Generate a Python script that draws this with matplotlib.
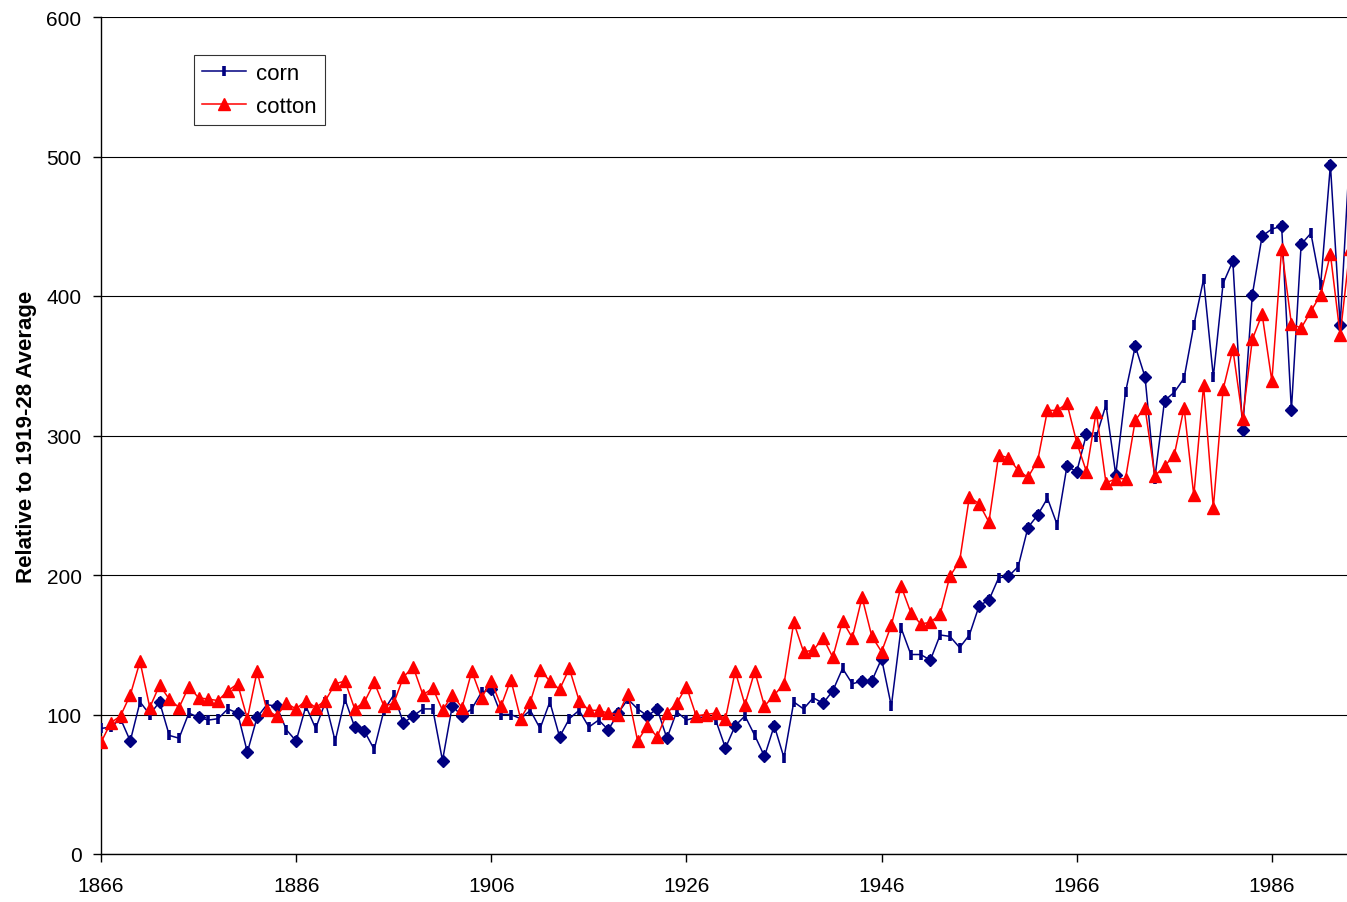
import numpy as np
import matplotlib
matplotlib.use('Agg')
import matplotlib.pyplot as plt

years = list(range(1866, 1995))

corn = [90, 91, 97, 81, 109, 100, 109, 85, 83, 101,
        98, 96, 97, 104, 101, 73, 98, 107, 106, 89,
        81, 106, 90, 109, 81, 111, 91, 88, 75, 103,
        114, 94, 99, 104, 104, 67, 106, 99, 104, 116,
        118, 100, 100, 97, 103, 90, 109, 84, 97, 103,
        91, 96, 89, 101, 111, 104, 99, 104, 83, 102,
        96, 98, 98, 96, 76, 92, 99, 85, 70, 92,
        69, 109, 104, 112, 108, 117, 133, 122, 124, 124,
        140, 106, 162, 143, 143, 139, 157, 156, 148, 157,
        178, 182, 198, 199, 206, 234, 243, 255, 236, 278,
        274, 301, 299, 322, 272, 331, 364, 342, 269, 325,
        331, 341, 379, 412, 342, 409, 425, 304, 401, 443,
        448, 450, 318, 437, 445, 408, 494, 379, 505]

cotton = [80, 94, 99, 114, 138, 105, 121, 111, 105, 120,
          112, 111, 110, 117, 122, 97, 131, 103, 99, 108,
          104, 110, 105, 110, 122, 124, 104, 109, 123, 106,
          108, 127, 134, 114, 119, 103, 114, 105, 131, 112,
          124, 106, 125, 97, 109, 132, 124, 118, 133, 110,
          103, 103, 101, 100, 115, 81, 92, 84, 101, 108,
          120, 99, 100, 101, 97, 131, 107, 131, 106, 114,
          122, 166, 145, 146, 155, 141, 167, 155, 184, 156,
          145, 164, 192, 173, 165, 166, 172, 199, 210, 256,
          251, 238, 286, 284, 275, 270, 282, 318, 318, 323,
          295, 274, 317, 266, 269, 269, 311, 320, 271, 278,
          286, 320, 257, 336, 248, 333, 362, 312, 369, 387,
          339, 434, 380, 377, 389, 401, 430, 372, 434]

# corn points drawn with a diamond instead of the bar marker
corn_diamond_years = [1869, 1872, 1876, 1880, 1881, 1882, 1884, 1886, 1892, 1893,
                      1897, 1898, 1901, 1902, 1903, 1906, 1913, 1918, 1919, 1922,
                      1923, 1924, 1930, 1931, 1934, 1935, 1940, 1941, 1944, 1945,
                      1946, 1951, 1956, 1957, 1959, 1961, 1962, 1965, 1966, 1967,
                      1970, 1972, 1973, 1975, 1982, 1983, 1984, 1985, 1987, 1988,
                      1989, 1992, 1993]

xticks = list(range(1866, 1987, 20))
yticks = list(range(0, 601, 100))

plt.rcParams['font.family'] = ['Liberation Sans', 'DejaVu Sans']

fig = plt.figure(figsize=(13.47, 9.03), dpi=100)
ax = fig.add_axes([101 / 1347, 48 / 903, 1 - 101 / 1347, 837 / 903])

ax.plot(years, corn, color='#000080', lw=1.1, marker='|', ms=7, mew=2.6,
        label='corn', zorder=3)
dx = [y for y in years if y in corn_diamond_years]
dy = [corn[years.index(y)] for y in dx]
ax.plot(dx, dy, ls='none', marker='D', ms=6.5, color='#000080', zorder=3)

ax.plot(years, cotton, color='#ff0000', lw=1.1, marker='^', ms=8.5,
        label='cotton', zorder=4)

ax.set_xlim(1866, 1993.7)
ax.set_ylim(0, 600)
ax.set_xticks(xticks)
ax.set_yticks(yticks)
ax.tick_params(labelsize=15, direction='out', length=6, width=1, color='black')
ax.tick_params(axis='x', pad=10)
ax.tick_params(axis='y', pad=8)
ax.grid(axis='y', color='black', lw=0.8)
ax.set_axisbelow(True)
for s in ['top', 'right']:
    ax.spines[s].set_visible(False)
for s in ['left', 'bottom']:
    ax.spines[s].set_linewidth(1)
ax.set_ylabel('Relative to 1919-28 Average', fontsize=16, fontweight='bold', labelpad=7)

leg = ax.legend(loc='upper left', bbox_to_anchor=((194 - 101) / 1246, (855 - 56) / 837),
                fontsize=16, frameon=True, fancybox=False, edgecolor='black',
                borderaxespad=0, handlelength=2.0, handletextpad=0.45,
                borderpad=0.35, labelspacing=0.55)
leg.get_frame().set_linewidth(0.8)

fig.savefig('out.png', dpi=100)
